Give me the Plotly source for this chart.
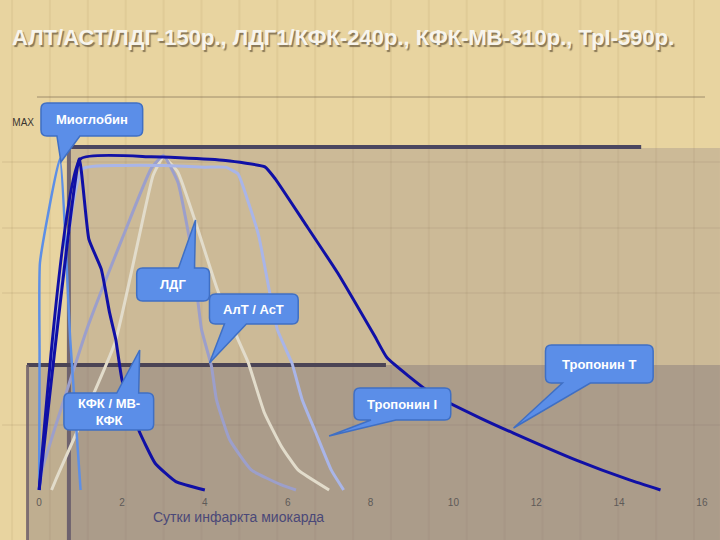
import plotly.graph_objects as go

# ---------------- data ----------------
x_ticks = [0, 2, 4, 6, 8, 10, 12, 14, 16]
y_tick_vals = [110]
y_tick_text = ["MAX"]

title_text = "АЛТ/АСТ/ЛДГ-150р., ЛДГ1/КФК-240р., КФК-МВ-310р., ТрI-590р."
x_title_text = "Сутки инфаркта миокарда"

myo_days = [0, 0.01, 0.02, 0.5, 0.75, 1.0]
myo_vals = [0, 40, 68, 99, 45, 0]

ck_days = [0, 0.97, 1.2, 1.5, 1.7, 1.85, 2.0, 2.4, 2.8, 3.3, 4.0]
ck_vals = [0, 99, 75, 66, 53, 45, 33, 18, 8, 2.5, 0]

tni_days = [0, 1.05, 2.0, 3.0, 4.0, 4.5, 4.8, 5.05, 5.3, 5.75, 6.1, 6.35, 6.65, 7.05, 7.35]
tni_vals = [0, 96, 97, 97, 96.5, 96.5, 94.5, 86, 76, 48, 38, 27, 18, 6, 0]

tnt_days = [0, 1.0, 2.7, 3.4, 4.5, 5.45, 5.7, 6.4, 7.2, 8.1, 8.4, 9.45, 10.65, 11.45, 12.95, 14.25, 15.0]
tnt_vals = [0, 99, 99.6, 99.3, 98.5, 96.6, 93, 80, 65, 46, 39.5, 29, 21.5, 17, 9, 3, 0]

ast_days = [0, 0.07, 0.6, 1.15, 2.0, 2.7, 3.0, 3.35, 3.7, 3.92, 4.16, 4.28, 4.6, 5.12, 5.85, 6.2]
ast_vals = [0, 6, 27, 48, 75, 96, 100, 92, 70, 48, 37, 27, 15, 6, 1.5, 0]

ldh_days = [0.3, 0.4, 1.83, 2.4, 2.75, 3.0, 3.35, 3.75, 4.3, 4.8, 5.05, 5.44, 5.85, 6.25, 7.0]
ldh_vals = [0, 3, 44, 75, 94, 99.5, 95, 81, 60, 45, 38, 23, 13, 6, 0]

callout_labels = ["Миоглобин", "ЛДГ", "АлТ / АсТ", "Тропонин Т", "КФК / МВ-<br>КФК", "Тропонин I"]

# ---------------- layout geometry ----------------
W, H = 720, 540
L, R, T, B = 33, 16, 122, 45
PW = W - L - R
PH = H - T - B


def px(X):
    return (X - L) / PW


def py(Y):
    return 1 - (Y - T) / PH


fig = go.Figure()

line_specs = [
    (ldh_days, ldh_vals, "#e2dccb", 3),
    (ast_days, ast_vals, "#9c9fcb", 3),
    (tni_days, tni_vals, "#a9b5e8", 3),
    (myo_days, myo_vals, "#5d8fe6", 2.5),
    (ck_days, ck_vals, "#1010a6", 3),
    (tnt_days, tnt_vals, "#1010a6", 3),
]
for xs, ys, col, w in line_specs:
    fig.add_trace(go.Scatter(x=xs, y=ys, mode="lines",
                             line=dict(color=col, width=w, shape="spline", smoothing=0.4),
                             hoverinfo="skip", showlegend=False))

shapes = []


def rect(x0, y0, x1, y1, fill, layer="below"):
    shapes.append(dict(type="rect", xref="paper", yref="paper",
                       x0=px(x0), x1=px(x1), y0=py(y1), y1=py(y0),
                       fillcolor=fill, line=dict(width=0), layer=layer))


def hline(y, x0, x1, color, width=1):
    shapes.append(dict(type="line", xref="paper", yref="paper",
                       x0=px(x0), x1=px(x1), y0=py(y), y1=py(y),
                       line=dict(color=color, width=width), layer="below"))


def vline(x, y0, y1, color, width=1):
    shapes.append(dict(type="line", xref="paper", yref="paper",
                       x0=px(x), x1=px(x), y0=py(y0), y1=py(y1),
                       line=dict(color=color, width=width), layer="below"))


# background texture
for xv in range(10, 720, 38):
    vline(xv, 0, 540, "rgba(160,130,80,0.10)", 2)
for yv in [162, 228, 293, 425]:
    hline(yv, 0, 720, "rgba(120,100,70,0.18)", 1)
hline(97, 35, 705, "rgba(110,95,75,0.6)", 1)

# translucent panels
rect(68, 148, 720, 540, "rgba(115,105,125,0.24)")
rect(25, 365, 720, 540, "rgba(95,85,110,0.30)")
rect(68, 145, 641, 149, "#4a4660")
rect(65, 148, 69, 540, "rgba(95,85,105,0.85)")
rect(25, 363, 385, 367, "#4b4455")
rect(24, 365, 27, 540, "rgba(110,95,105,0.8)")


def callout(x0, y0, x1, y1, side, b1, b2, tx, ty, r=6):
    P = lambda X, Y: f"{px(X):.5f},{py(Y):.5f}"
    d = f"M {P(x0 + r, y0)} "
    if side == "top":
        d += f"L {P(b1, y0)} L {P(tx, ty)} L {P(b2, y0)} "
    d += f"L {P(x1 - r, y0)} Q {P(x1, y0)} {P(x1, y0 + r)} "
    d += f"L {P(x1, y1 - r)} Q {P(x1, y1)} {P(x1 - r, y1)} "
    if side == "bottom":
        d += f"L {P(b2, y1)} L {P(tx, ty)} L {P(b1, y1)} "
    d += f"L {P(x0 + r, y1)} Q {P(x0, y1)} {P(x0, y1 - r)} "
    d += f"L {P(x0, y0 + r)} Q {P(x0, y0)} {P(x0 + r, y0)} Z"
    shapes.append(dict(type="path", xref="paper", yref="paper", path=d,
                       fillcolor="#5b8ee8", line=dict(color="#3f6fc4", width=1.5),
                       layer="above"))


callout_geo = [
    (39, 103, 141, 136, "bottom", 55, 78, 59, 162),
    (135, 268, 208, 301, "top", 177, 193, 194, 220),
    (208, 294, 297, 324, "bottom", 223, 245, 208, 363),
    (545, 345, 653, 383, "bottom", 562, 590, 513, 428),
    (62, 393, 152, 430, "top", 115, 137, 138, 350),
    (353, 388, 450, 420, "bottom", 370, 395, 328, 436),
]
annotations = []
for g, lab in zip(callout_geo, callout_labels):
    callout(*g)
    cx = (g[0] + g[2]) / 2
    cy = (g[1] + g[3]) / 2
    annotations.append(dict(xref="paper", yref="paper", x=px(cx), y=py(cy),
                            text=f"<b>{lab}</b>", showarrow=False,
                            font=dict(family="Liberation Sans, Arial", size=13, color="white"),
                            xanchor="center", yanchor="middle"))

# title with a soft shadow
annotations.append(dict(xref="paper", yref="paper", x=px(8), y=py(37),
                        text=f"<b>{title_text}</b>", showarrow=False,
                        font=dict(family="Liberation Sans, Arial", size=22, color="#f7f4ec",
                                  shadow="1.5px 1.5px 1px rgba(95,80,55,0.7)"),
                        xanchor="left", yanchor="middle"))
# x axis caption
annotations.append(dict(xref="paper", yref="paper", x=px(237), y=py(517),
                        text=x_title_text, showarrow=False,
                        font=dict(family="Liberation Sans, Arial", size=14, color="#4a4878"),
                        xanchor="center", yanchor="middle"))

fig.update_layout(
    width=W, height=H,
    margin=dict(l=L, r=R, t=T, b=B, pad=0),
    paper_bgcolor="#e8d4a0",
    plot_bgcolor="rgba(0,0,0,0)",
    shapes=shapes,
    annotations=annotations,
    showlegend=False,
    xaxis=dict(range=[-0.1, 16.05], tickvals=x_ticks, ticktext=[str(v) for v in x_ticks],
               showgrid=False, zeroline=False, showline=False, ticks="",
               tickfont=dict(family="Liberation Sans, Arial", size=10, color="#5e5a58"),
               fixedrange=True),
    yaxis=dict(range=[-1.5, 110], tickvals=y_tick_vals, ticktext=y_tick_text,
               showgrid=False, zeroline=False, showline=False, ticks="",
               tickfont=dict(family="Liberation Sans, Arial", size=10, color="#3a3430"),
               fixedrange=True),
)

fig.write_html("out.html", config={"displayModeBar": False},
               post_script="document.body.style.margin='0';document.body.style.overflow='hidden';")
